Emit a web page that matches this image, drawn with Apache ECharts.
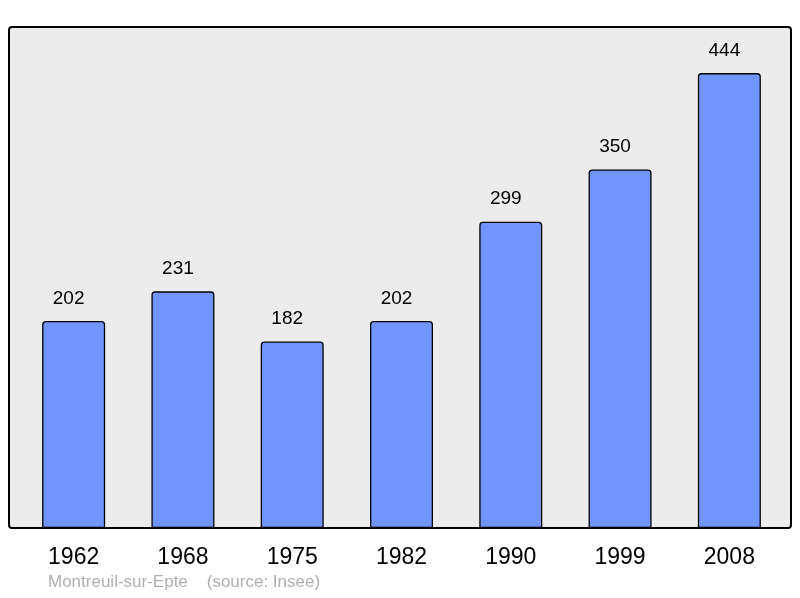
<!DOCTYPE html>
<html>
<head>
<meta charset="utf-8">
<script src="https://cdn.jsdelivr.net/npm/echarts@6/dist/echarts.min.js"></script>
<style>
html,body{margin:0;padding:0;background:#fff;}
#chart{width:800px;height:598px;}
</style>
</head>
<body>
<div id="chart"></div>
<script>
var years = ['1962', '1968', '1975', '1982', '1990', '1999', '2008'];
var population = [202, 231, 182, 202, 299, 350, 444];

var myChart = echarts.init(document.getElementById('chart'));
var option = {
    backgroundColor: '#ffffff',
    animation: false,
    graphic: [
        {
            type: 'rect',
            z: -10,
            shape: {x: 9, y: 27, width: 782, height: 501, r: 3},
            style: {fill: '#ececec', stroke: '#000000', lineWidth: 2}
        },
        {
            type: 'text',
            left: 48,
            top: 574,
            style: {
                text: 'Montreuil-sur-Epte    (source: Insee)',
                fill: '#b0b0b0',
                font: '17px "Liberation Sans", Arial, sans-serif'
            }
        }
    ],
    grid: {
        left: 19,
        right: 16,
        top: 27,
        bottom: 70
    },
    xAxis: {
        type: 'category',
        data: years,
        axisLine: {show: false},
        axisTick: {show: false},
        axisLabel: {
            color: '#000',
            fontSize: 23,
            margin: 18,
            fontFamily: '"Liberation Sans", Arial, sans-serif'
        }
    },
    yAxis: {
        type: 'value',
        min: 0,
        max: 489,
        show: false,
        splitLine: {show: false}
    },
    series: [
        {
            type: 'bar',
            data: population,
            barWidth: 63,
            itemStyle: {
                color: '#7095ff',
                borderColor: '#000',
                borderWidth: 1.3,
                borderRadius: [3, 3, 0, 0]
            },
            label: {
                show: true,
                position: 'top',
                distance: 13,
                offset: [-5, 0],
                color: '#000',
                fontSize: 19,
                fontFamily: '"Liberation Sans", Arial, sans-serif'
            }
        }
    ]
};
myChart.setOption(option);
</script>
</body>
</html>
